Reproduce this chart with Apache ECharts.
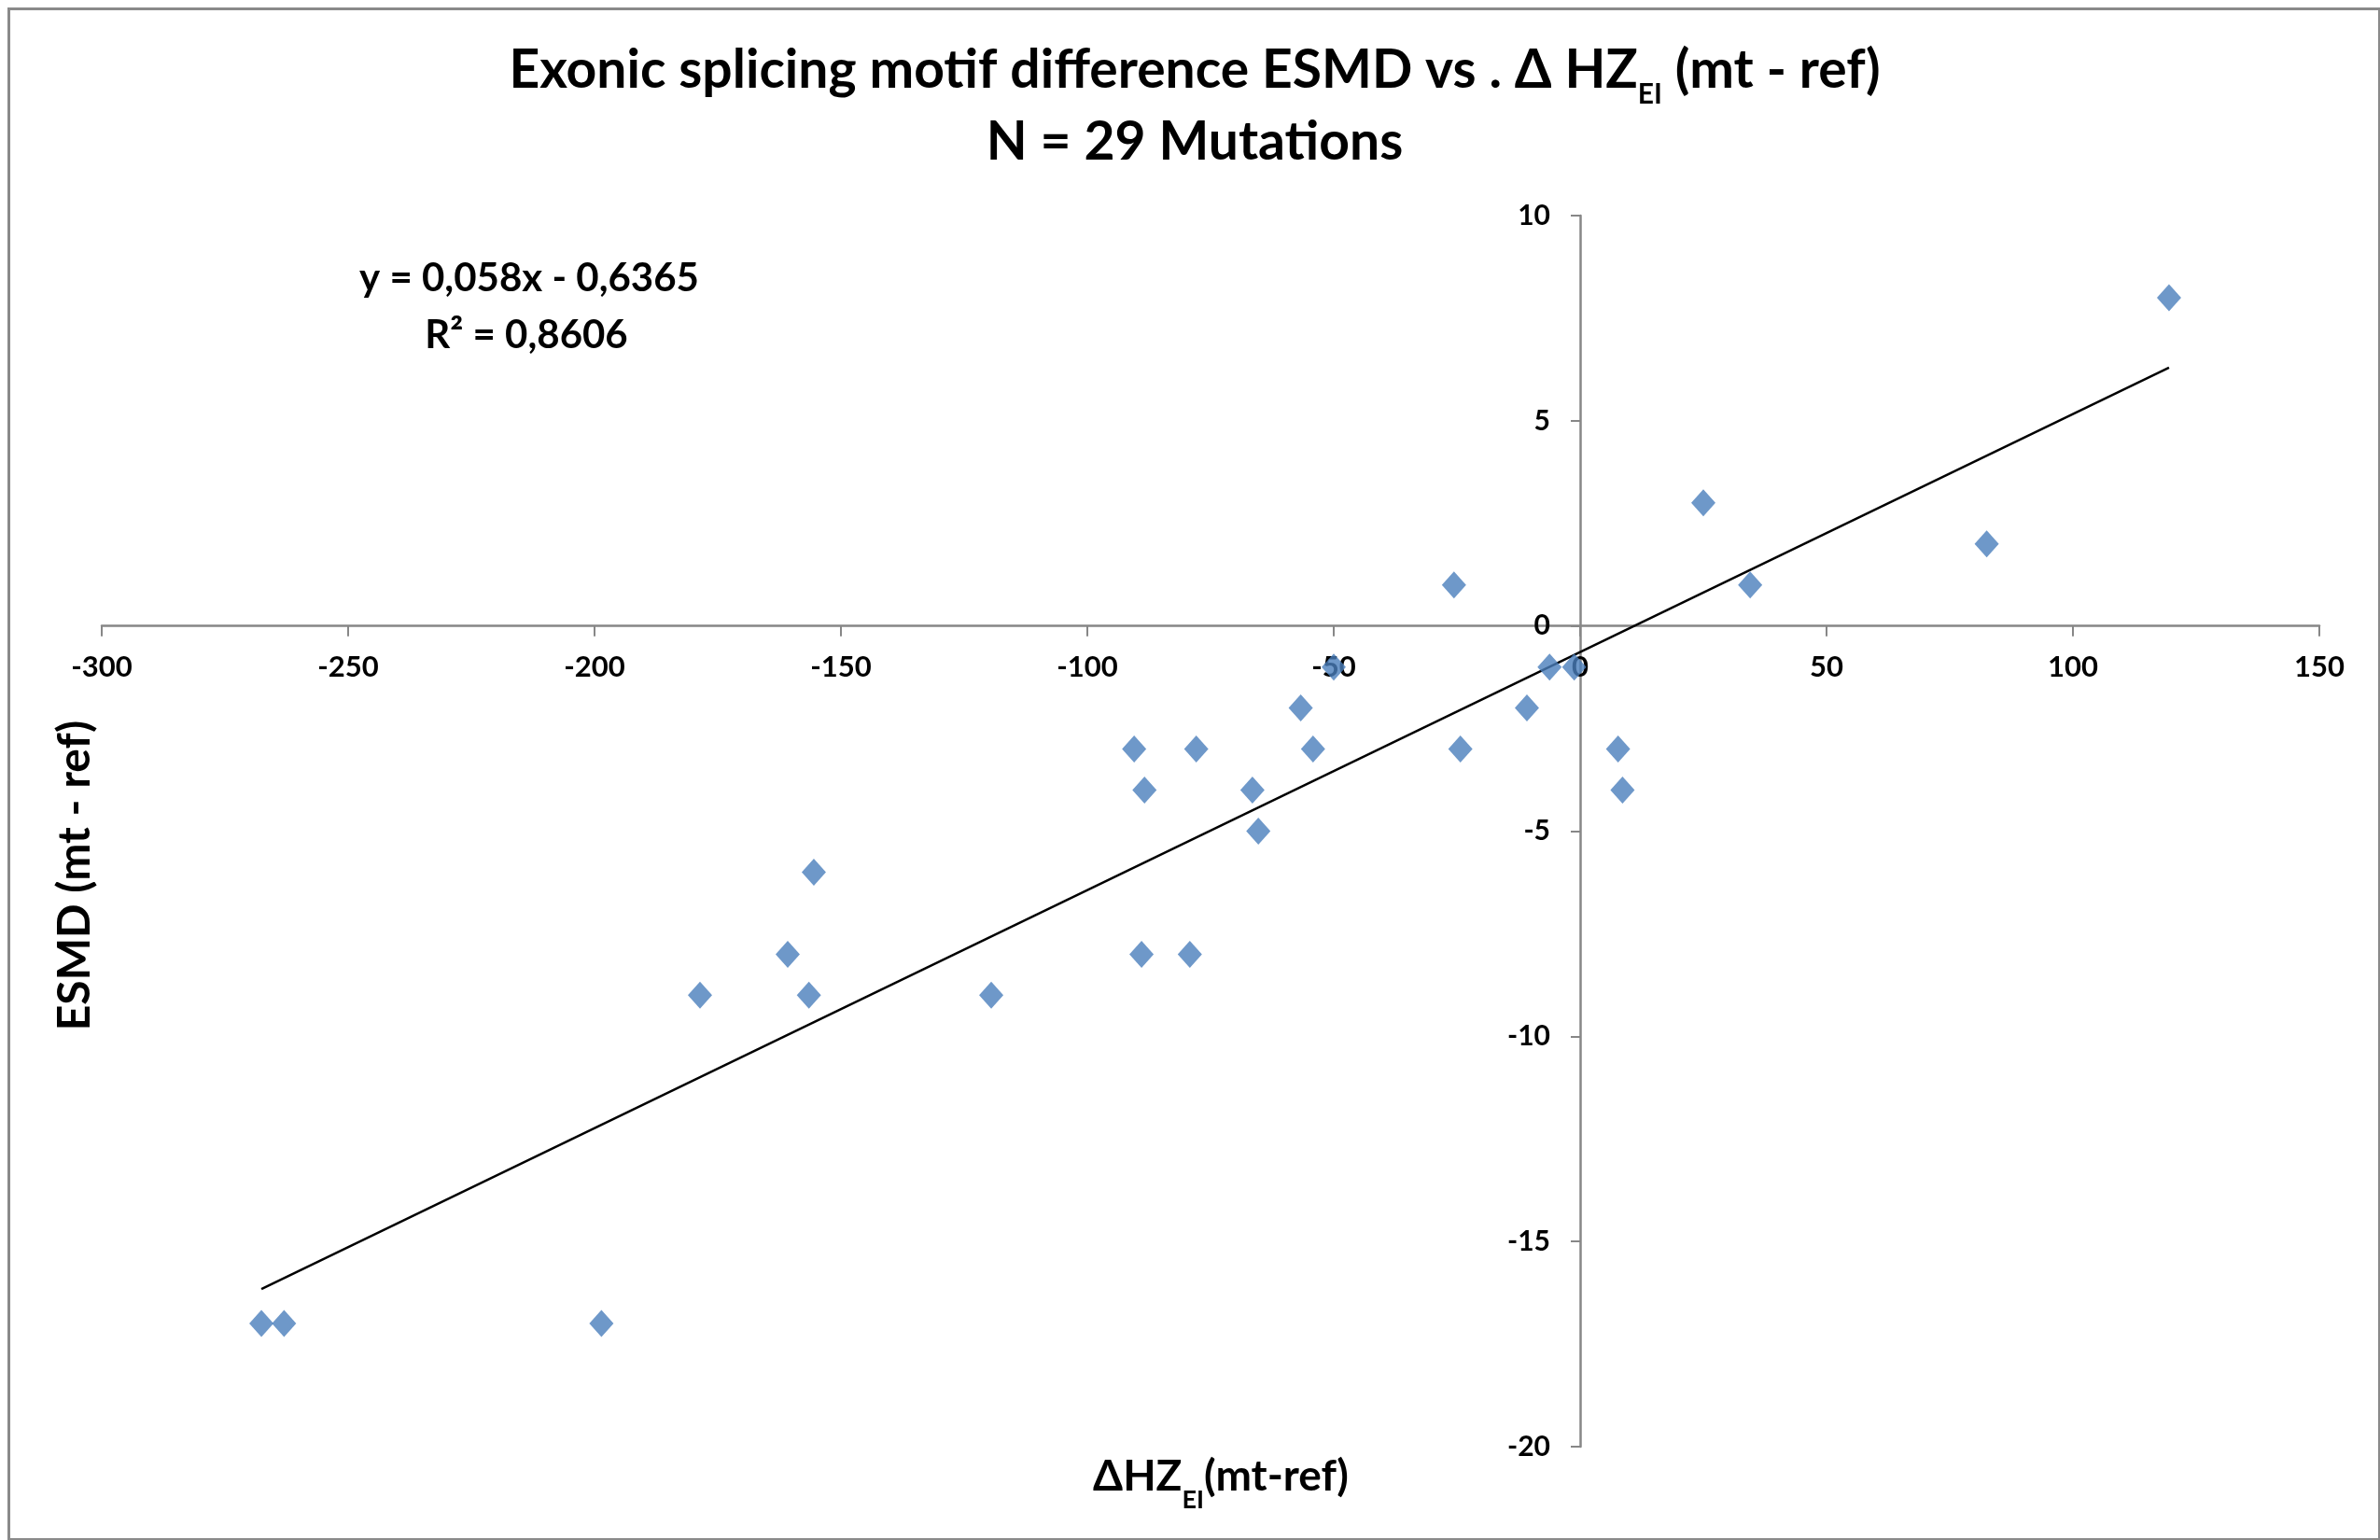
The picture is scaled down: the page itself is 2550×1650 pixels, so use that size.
<!DOCTYPE html>
<html>
<head>
<meta charset="utf-8">
<title>ESMD vs delta HZ</title>
<script src="https://cdn.jsdelivr.net/npm/echarts@6/dist/echarts.min.js"></script>
<style>
html, body { margin: 0; padding: 0; background: #fff; }
#chart { width: 2550px; height: 1650px; }
</style>
</head>
<body>
<div id="chart"></div>
<script>
// ΔHZ_EI (mt - ref), one value per mutation
const deltaHZ = [119.5, 25, 82.5, 34.5, -25.6, -50, -6.2, -1.2, -56.7, -10.8,
    -90.5, -77.9, -54.2, -24.3, 7.7, -88.4, -66.5, 8.6, -65.3, -155.5,
    -160.8, -89, -79.2, -178.6, -156.5, -119.5, -267.6, -263, -198.6]
// ESMD (mt - ref), same order
const esmd = [8, 3, 2, 1, 1, -1, -1, -1, -2, -2,
    -3, -3, -3, -3, -3, -4, -4, -4, -5, -6,
    -8, -8, -8, -9, -9, -9, -17, -17, -17]
// linear trendline as printed on the chart
const slope = 0.058
const intercept = -0.6365
const rSquared = 0.8606
// axis ranges / tick steps
const xRange = [-300, 150]
const xStep = 50
const yRange = [-20, 10]
const yStep = 5

const FONT = 'Lato'
const fmt = v => String(v).replace('.', ',')

const W = 2550
const H = 1650
const grid = { left: 109, right: 65, top: 231, bottom: 100 }
const gridW = W - grid.left - grid.right
const gridH = H - grid.top - grid.bottom
// axes cross at 0 / 0 -> shift them into the plot with a negative offset
const yAxisShift = gridW * (0 - xRange[0]) / (xRange[1] - xRange[0])
const xAxisShift = gridH * (0 - yRange[0]) / (yRange[1] - yRange[0])

const points = deltaHZ.map((x, i) => [x, esmd[i]])
const xLo = Math.min(...deltaHZ)
const xHi = Math.max(...deltaHZ)
const trend = [[xLo, slope * xLo + intercept], [xHi, slope * xHi + intercept]]

const myChart = echarts.init(document.getElementById('chart'))

const labelStyle = {
    color: '#000',
    fontFamily: FONT,
    fontWeight: 'bold'
}

// main text sits at the top of the line, subscript at the bottom of a taller box
// (drop = distance between the centres of main text and subscript)
function subRich (size, subSize, drop) {
    return {
        t: { fontSize: size, lineHeight: size, verticalAlign: 'top', fontFamily: FONT, fontWeight: 'bold', fill: '#000' },
        s: { fontSize: subSize, lineHeight: drop + subSize / 2 + size / 2, verticalAlign: 'bottom', fontFamily: FONT, fontWeight: 'bold', fill: '#000' }
    }
}

const option = {
    backgroundColor: '#fff',
    animation: false,
    grid: grid,
    xAxis: {
        type: 'value',
        position: 'bottom',
        offset: -xAxisShift,
        min: xRange[0],
        max: xRange[1],
        interval: xStep,
        axisLine: {
            onZero: false,
            lineStyle: { color: '#878787', width: 2.5 }
        },
        axisTick: {
            length: 11,
            lineStyle: { color: '#878787', width: 2 }
        },
        axisLabel: Object.assign({ margin: 29, fontSize: 31 }, labelStyle),
        splitLine: { show: false }
    },
    yAxis: {
        type: 'value',
        position: 'left',
        offset: -yAxisShift,
        min: yRange[0],
        max: yRange[1],
        interval: yStep,
        axisLine: {
            onZero: false,
            lineStyle: { color: '#878787', width: 2.5 }
        },
        axisTick: {
            length: 10,
            lineStyle: { color: '#878787', width: 2 }
        },
        axisLabel: Object.assign({ margin: 32, fontSize: 30 }, labelStyle),
        splitLine: { show: false }
    },
    series: [
        {
            type: 'line',
            data: trend,
            symbol: 'none',
            lineStyle: { color: '#000', width: 2.5 },
            z: 3
        },
        {
            type: 'scatter',
            data: points,
            symbol: 'diamond',
            symbolSize: [26, 29],
            itemStyle: { color: '#4A7EBB' },
            z: 4
        }
    ],
    graphic: [
        // chart frame
        {
            type: 'rect',
            shape: { x: 9.5, y: 9.5, width: 2540, height: 1640 },
            style: { fill: 'none', stroke: '#8a8a8a', lineWidth: 3 },
            silent: true
        },
        // title line 1 (with subscript)
        {
            type: 'text',
            x: 1280,
            y: 82,
            style: {
                text: '{t|Exonic splicing motif difference ESMD vs . \u0394 HZ}{s|EI}{t| (mt - ref)}',
                align: 'center',
                verticalAlign: 'middle',
                rich: subRich(57, 30, 26)
            }
        },
        {
            type: 'text',
            x: 1280,
            y: 153,
            style: {
                text: 'N = ' + deltaHZ.length + ' Mutations',
                align: 'center',
                verticalAlign: 'middle',
                fontFamily: FONT,
                fontWeight: 'bold',
                fontSize: 57,
                fill: '#000'
            }
        },
        // trendline equation
        {
            type: 'text',
            x: 567,
            y: 298,
            style: {
                text: 'y = ' + fmt(slope) + 'x - ' + fmt(-intercept),
                align: 'center',
                verticalAlign: 'middle',
                fontFamily: FONT,
                fontWeight: 'bold',
                fontSize: 42,
                fill: '#000'
            }
        },
        {
            type: 'text',
            x: 564,
            y: 359,
            style: {
                text: 'R\u00b2 = ' + fmt(rSquared),
                align: 'center',
                verticalAlign: 'middle',
                fontFamily: FONT,
                fontWeight: 'bold',
                fontSize: 42,
                fill: '#000'
            }
        },
        // x axis name
        {
            type: 'text',
            x: 1308,
            y: 1590,
            style: {
                text: '{t|\u0394HZ}{s|EI}{t|(mt-ref)}',
                align: 'center',
                verticalAlign: 'middle',
                rich: subRich(46, 27, 25)
            }
        },
        // y axis name
        {
            type: 'text',
            x: 81,
            y: 938,
            rotation: Math.PI / 2,
            style: {
                text: 'ESMD (mt - ref)',
                align: 'center',
                verticalAlign: 'middle',
                fontFamily: FONT,
                fontWeight: 'bold',
                fontSize: 48,
                fill: '#000'
            }
        }
    ]
}

myChart.setOption(option)
</script>
</body>
</html>
